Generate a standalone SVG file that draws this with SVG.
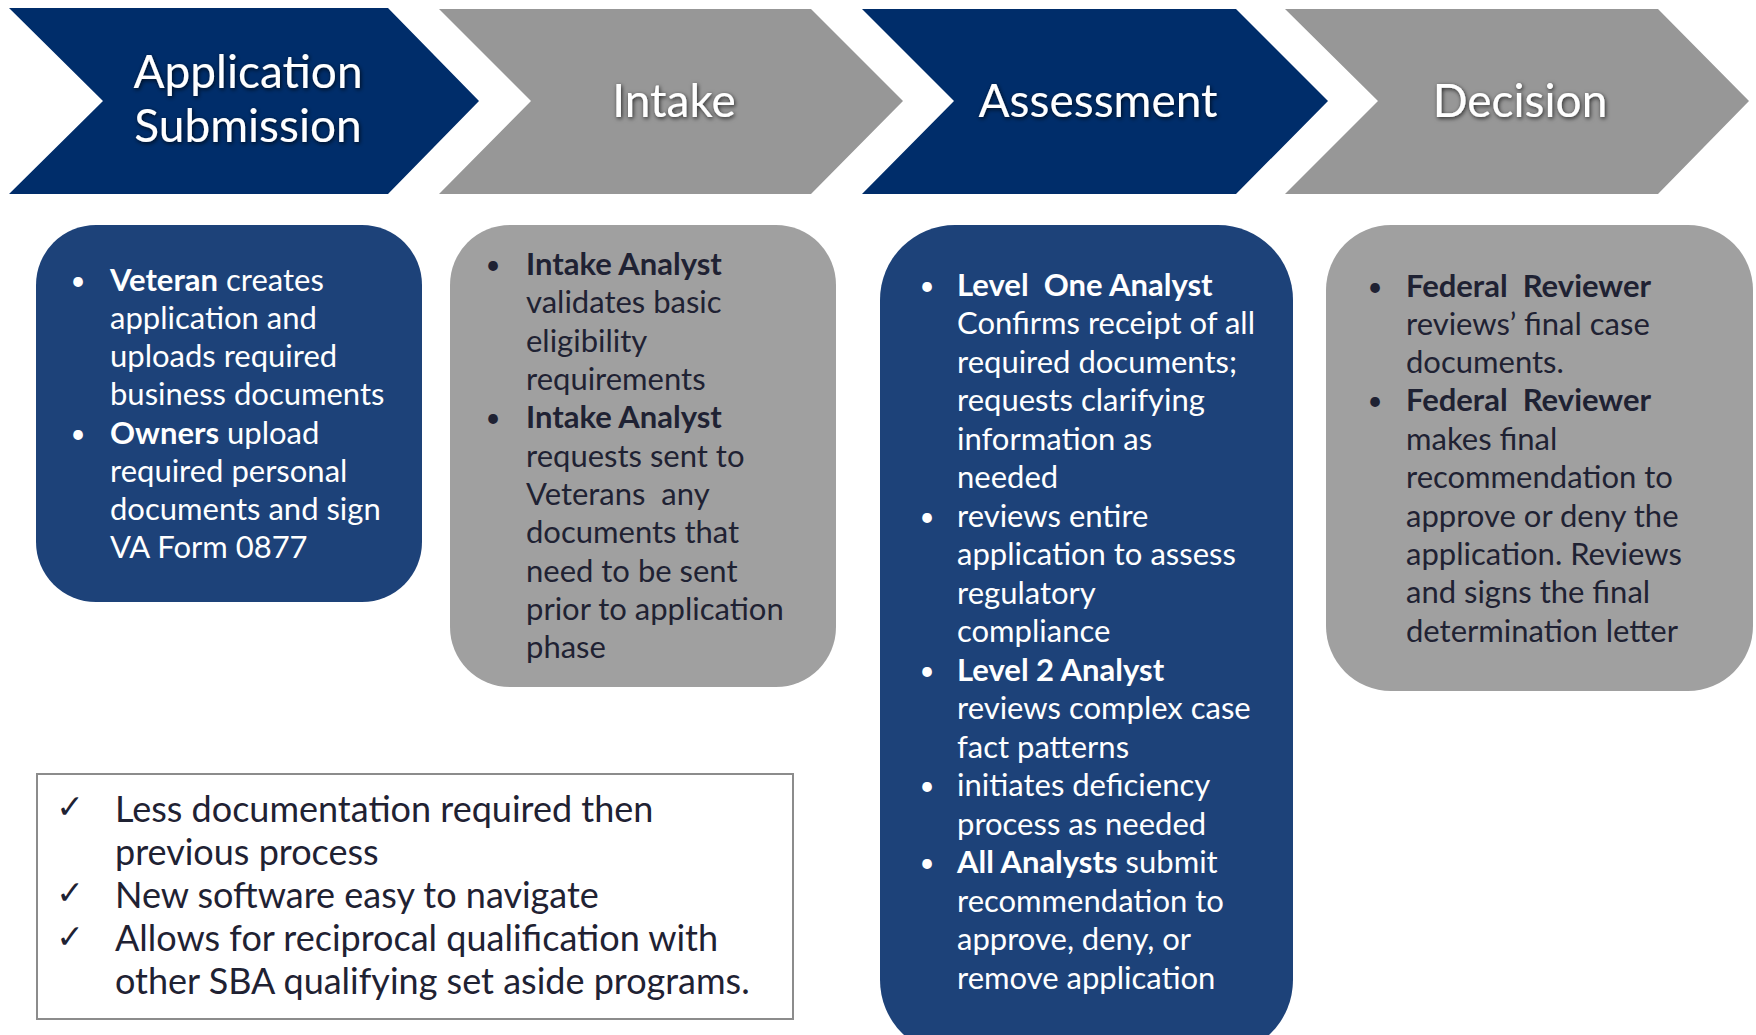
<svg xmlns="http://www.w3.org/2000/svg" width="1756" height="1035" viewBox="0 0 1756 1035">
<defs>
<filter id="glow" x="-20%" y="-30%" width="140%" height="160%">
<feDropShadow dx="1" dy="1.5" stdDeviation="2.2" flood-color="#000" flood-opacity="0.75"/>
</filter>
</defs>
<style>
.navyC{fill:#002D6A}
.grayC{fill:#979797}
.navyB{fill:#1D4279}
.grayB{fill:#A0A0A0}
.title{font-family:Lato,"Liberation Sans",sans-serif;font-size:46px;fill:#fff;text-anchor:middle;filter:url(#glow)}
.wt{font-family:Lato,"Liberation Sans",sans-serif;font-size:31px;fill:#fff}
.dk{font-family:Lato,"Liberation Sans",sans-serif;font-size:31px;fill:#1F2233}
.b{font-weight:bold}
.bul{text-anchor:middle;font-size:26px}
.note{font-family:Lato,"Liberation Sans",sans-serif;font-size:36px;fill:#1F2233}
.chk{font-family:"DejaVu Sans",sans-serif;font-size:33px;fill:#1F2233;text-anchor:middle}
</style>
<rect width="1756" height="1035" fill="#fff"/>

<g id="chevron-application">
<polygon class="navyC" points="9,8 388,8 479,101 388,194 9,194 103,101"/>
<text class="title" x="248" y="88">Application</text>
<text class="title" x="248" y="142">Submission</text>
</g>
<g id="chevron-intake">
<polygon class="grayC" points="439,9 811,9 903,101 811,194 439,194 531,101"/>
<text class="title" x="674" y="117">Intake</text>
</g>
<g id="chevron-assessment">
<polygon class="navyC" points="862,9 1236,9 1328,101 1236,194 862,194 954,101"/>
<text class="title" x="1098" y="117">Assessment</text>
</g>
<g id="chevron-decision">
<polygon class="grayC" points="1285,9 1658,9 1749,101 1658,194 1285,194 1378,101"/>
<text class="title" x="1520" y="117">Decision</text>
</g>

<g id="box-application">
<rect class="navyB" x="36" y="225" width="386" height="377" rx="60" ry="60"/>
<text class="wt bul" x="78" y="290">•</text>
<text class="wt bul" x="78" y="443">•</text>
<text class="wt" x="110" y="291"><tspan class="b">Veteran</tspan> creates</text>
<text class="wt" x="110" y="329">application and</text>
<text class="wt" x="110" y="367">uploads required</text>
<text class="wt" x="110" y="405">business documents</text>
<text class="wt" x="110" y="444"><tspan class="b">Owners</tspan> upload</text>
<text class="wt" x="110" y="482">required personal</text>
<text class="wt" x="110" y="520">documents and sign</text>
<text class="wt" x="110" y="558">VA Form 0877</text>
</g>

<g id="box-intake">
<rect class="grayB" x="450" y="225" width="386" height="462" rx="60" ry="60"/>
<text class="dk bul" x="493" y="274">•</text>
<text class="dk bul" x="493" y="427">•</text>
<text class="dk b" x="526" y="275">Intake Analyst</text>
<text class="dk" x="526" y="313">validates basic</text>
<text class="dk" x="526" y="352">eligibility</text>
<text class="dk" x="526" y="390">requirements</text>
<text class="dk b" x="526" y="428">Intake Analyst</text>
<text class="dk" x="526" y="467">requests sent to</text>
<text class="dk" x="526" y="505" style="white-space:pre">Veterans  any</text>
<text class="dk" x="526" y="543">documents that</text>
<text class="dk" x="526" y="582">need to be sent</text>
<text class="dk" x="526" y="620">prior to application</text>
<text class="dk" x="526" y="658">phase</text>
</g>

<g id="box-assessment">
<rect class="navyB" x="880" y="225" width="413" height="830" rx="75" ry="75"/>
<text class="wt bul" x="927" y="295">•</text>
<text class="wt bul" x="927" y="526">•</text>
<text class="wt bul" x="927" y="680">•</text>
<text class="wt bul" x="927" y="795">•</text>
<text class="wt bul" x="927" y="872">•</text>
<text class="wt b" x="957" y="296" style="white-space:pre">Level  One Analyst</text>
<text class="wt" x="957" y="334">Confirms receipt of all</text>
<text class="wt" x="957" y="373">required documents;</text>
<text class="wt" x="957" y="411">requests clarifying</text>
<text class="wt" x="957" y="450">information as</text>
<text class="wt" x="957" y="488">needed</text>
<text class="wt" x="957" y="527">reviews entire</text>
<text class="wt" x="957" y="565">application to assess</text>
<text class="wt" x="957" y="604">regulatory</text>
<text class="wt" x="957" y="642">compliance</text>
<text class="wt b" x="957" y="681">Level 2 Analyst</text>
<text class="wt" x="957" y="719">reviews complex case</text>
<text class="wt" x="957" y="758">fact patterns</text>
<text class="wt" x="957" y="796">initiates deficiency</text>
<text class="wt" x="957" y="835">process as needed</text>
<text class="wt" x="957" y="873"><tspan class="b">All Analysts</tspan> submit</text>
<text class="wt" x="957" y="912">recommendation to</text>
<text class="wt" x="957" y="950">approve, deny, or</text>
<text class="wt" x="957" y="989">remove application</text>
</g>

<g id="box-decision">
<rect class="grayB" x="1326" y="225" width="427" height="466" rx="65" ry="65"/>
<text class="dk bul" x="1375" y="296">•</text>
<text class="dk bul" x="1375" y="410">•</text>
<text class="dk b" x="1406" y="297" style="white-space:pre">Federal  Reviewer</text>
<text class="dk" x="1406" y="335">reviews’ final case</text>
<text class="dk" x="1406" y="373">documents.</text>
<text class="dk b" x="1406" y="411" style="white-space:pre">Federal  Reviewer</text>
<text class="dk" x="1406" y="450">makes final</text>
<text class="dk" x="1406" y="488">recommendation to</text>
<text class="dk" x="1406" y="527">approve or deny the</text>
<text class="dk" x="1406" y="565">application. Reviews</text>
<text class="dk" x="1406" y="603">and signs the final</text>
<text class="dk" x="1406" y="642">determination letter</text>
</g>

<g id="benefits">
<rect x="37" y="774" width="756" height="245" fill="#fff" stroke="#8C8C8C" stroke-width="2"/>
<text class="chk" x="70" y="818">✓</text>
<text class="chk" x="70" y="904">✓</text>
<text class="chk" x="70" y="948">✓</text>
<text class="note" x="115" y="822">Less documentation required then</text>
<text class="note" x="115" y="865">previous process</text>
<text class="note" x="115" y="908">New software easy to navigate</text>
<text class="note" x="115" y="951">Allows for reciprocal qualification with</text>
<text class="note" x="115" y="994">other SBA qualifying set aside programs.</text>
</g>

<g id="connectors"/>
</svg>
